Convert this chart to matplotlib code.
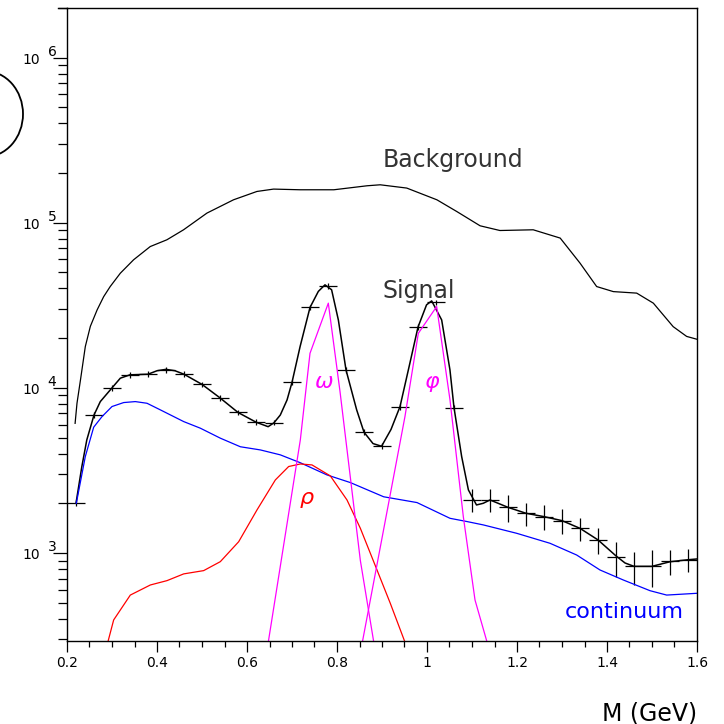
import matplotlib
matplotlib.use('Agg')
import matplotlib.pyplot as plt
from matplotlib.patches import Ellipse
from matplotlib.lines import Line2D
from matplotlib.ticker import FixedLocator, LogLocator, NullFormatter, FixedFormatter

# background curve
bkg_m = [0.218, 0.2222, 0.230, 0.2407, 0.2519, 0.267, 0.2815, 0.296, 0.3185, 0.348, 0.385, 0.422,
         0.459, 0.511, 0.570, 0.622, 0.659, 0.718, 0.793, 0.867, 0.896, 0.955, 1.022, 1.066,
         1.118, 1.162, 1.236, 1.296, 1.340, 1.377, 1.414, 1.466, 1.503, 1.547, 1.577, 1.600]
bkg = [6100, 8070, 11200, 17800, 23600, 29700, 35700, 41100, 49500, 59700, 71800, 78900,
       90700, 114500, 137800, 154800, 160000, 158500, 158500, 167600, 169900, 162300, 137800, 117100,
       95900, 89800, 90700, 80800, 57000, 41100, 38300, 37500, 32600, 23500, 20500, 19700]

# signal data points (bin centres, bin half width 0.02)
sig_m = [0.22, 0.26, 0.30, 0.34, 0.38, 0.42, 0.46, 0.50, 0.54, 0.58, 0.62, 0.66,
         0.70, 0.74, 0.78, 0.82, 0.86, 0.90, 0.94, 0.98, 1.02, 1.06,
         1.10, 1.14, 1.18, 1.22, 1.26, 1.30, 1.34, 1.38, 1.42, 1.46, 1.50, 1.54, 1.58]
sig = [2000, 6850, 10000, 12000, 12100, 12900, 12100, 10500, 8700, 7100, 6250, 6170,
       10800, 30700, 41500, 12850, 5400, 4470, 7700, 23300, 33000, 7600,
       2100, 2100, 1890, 1740, 1660, 1570, 1410, 1200, 940, 830, 830, 890, 910]
sig_err = [80, 270, 400, 480, 480, 520, 480, 420, 350, 280, 250, 250,
           430, 1200, 1700, 520, 220, 180, 310, 930, 1300, 300,
           340, 340, 340, 280, 290, 270, 230, 210, 220, 190, 210, 150, 140]
bin_half = 0.02

# signal fit curve
fit_m = [0.22, 0.233, 0.244, 0.26, 0.274, 0.30, 0.3185, 0.34, 0.38, 0.40, 0.42, 0.44, 0.46,
         0.50, 0.54, 0.58, 0.62, 0.647, 0.66, 0.674, 0.689, 0.70, 0.718, 0.74, 0.7585, 0.7733,
         0.788, 0.803, 0.82, 0.8437, 0.86, 0.88, 0.899, 0.92, 0.94, 0.962, 0.98, 0.999, 1.0104,
         1.0326, 1.051, 1.06, 1.077, 1.092, 1.11, 1.125, 1.14, 1.18, 1.22, 1.26, 1.30, 1.34,
         1.38, 1.42, 1.44, 1.46, 1.50, 1.54, 1.58, 1.60]
fit = [2000, 3340, 4840, 6850, 8260, 10000, 11450, 12000, 12100, 12700, 12950, 12700, 12100,
       10500, 8700, 7100, 6200, 5820, 6150, 6850, 8450, 10800, 17800, 30700, 38400, 42100,
       39300, 25800, 12850, 7360, 5390, 4600, 4430, 5600, 7700, 14130, 23350, 31850, 33650,
       25800, 12850, 7600, 3840, 2410, 1954, 2000, 2095, 1890, 1740, 1660, 1570, 1410,
       1200, 960, 870, 830, 830, 885, 910, 920]

# continuum
cont_m = [0.2207, 0.2407, 0.2593, 0.2778, 0.30, 0.326, 0.3518, 0.3778, 0.4074, 0.4593, 0.4963,
          0.5407, 0.5852, 0.6296, 0.674, 0.7185, 0.7778, 0.8296, 0.9037, 0.9778, 1.0511, 1.0889,
          1.1252, 1.1993, 1.2733, 1.3326, 1.3844, 1.4363, 1.4956, 1.5326, 1.60]
cont = [2000, 3840, 5780, 6700, 7710, 8150, 8260, 8070, 7360, 6250, 5700,
        4960, 4400, 4210, 3930, 3520, 2970, 2670, 2190, 2020, 1622, 1550,
        1479, 1316, 1145, 972, 789, 686, 591, 556, 570]

# rho, omega, phi
rho_m = [0.288, 0.3037, 0.3407, 0.3852, 0.4222, 0.4593, 0.5037, 0.5407, 0.5815, 0.6222, 0.663,
         0.6926, 0.7185, 0.7444, 0.7852, 0.8222, 0.8519, 0.8889, 0.9185, 0.955]
rho = [270, 393, 556, 640, 680, 747, 782, 886, 1170, 1823, 2770,
       3340, 3460, 3415, 2930, 2095, 1411, 789, 495, 270]
om_m = [0.647, 0.7185, 0.74, 0.7807, 0.8067, 0.8519, 0.882]
om = [285, 4840, 16200, 32600, 9500, 900, 285]
phi_m = [0.856, 0.951, 0.9807, 1.0215, 1.0511, 1.0807, 1.1067, 1.134]
phi = [285, 6700, 21400, 31100, 8450, 1660, 519, 285]

xticks = [0.2, 0.4, 0.6, 0.8, 1.0, 1.2, 1.4, 1.6]
xlabels = ['0.2', '0.4', '0.6', '0.8', '1', '1.2', '1.4', '1.6']
decades = [3, 4, 5, 6]

W = 724
fig = plt.figure(figsize=(7.24, 7.24), dpi=100)
ax = fig.add_axes([67 / W, 1 - 641 / W, 630 / W, 633 / W])
ax.set_yscale('log')
ax.set_xlim(0.2, 1.6)
ax.set_ylim(293, 2.0e6)

ax.plot(bkg_m, bkg, color='black', lw=0.9)
ax.plot(fit_m, fit, color='black', lw=1.1)
ax.errorbar(sig_m, sig, xerr=bin_half, yerr=sig_err, fmt='none', ecolor='black',
            elinewidth=0.9, capsize=0)
ax.plot(cont_m, cont, color='#0000ff', lw=0.9)
ax.plot(rho_m, rho, color='#ff0000', lw=0.9)
ax.plot(om_m, om, color='#ff00ff', lw=0.9)
ax.plot(phi_m, phi, color='#ff00ff', lw=0.9)

ax.text(0.902, 2.18e5, 'Background', fontsize=17, color='#333333', va='baseline')
ax.text(0.902, 3.51e4, 'Signal', fontsize=17, color='#333333', va='baseline')
ax.text(1.307, 404, 'continuum', fontsize=16, color='#0000ff', va='baseline')
ax.text(0.771, 1.09e4, r'$\omega$', fontsize=16, color='#ff00ff', ha='center', va='center')
ax.text(1.011, 1.06e4, r'$\varphi$', fontsize=16, color='#ff00ff', ha='center', va='center')
ax.text(0.733, 2.1e3, r'$\rho$', fontsize=16, color='#ff0000', ha='center', va='center')

# ticks
ax.xaxis.set_major_locator(FixedLocator(xticks))
ax.xaxis.set_major_formatter(FixedFormatter(xlabels))
ax.xaxis.set_minor_locator(FixedLocator([0.2 + 0.05 * i for i in range(29)]))
ax.yaxis.set_major_locator(FixedLocator([10.0 ** k for k in decades]))
ax.yaxis.set_major_formatter(NullFormatter())
ax.yaxis.set_minor_locator(LogLocator(base=10, subs=range(2, 10)))
ax.yaxis.set_minor_formatter(NullFormatter())
ax.tick_params(axis='x', which='major', direction='out', length=8, width=0.9, pad=3, labelsize=10)
ax.tick_params(axis='x', which='minor', direction='out', length=4.5, width=0.9)
ax.tick_params(axis='y', which='major', direction='out', length=10, width=0.9)
ax.tick_params(axis='y', which='minor', direction='out', length=6.5, width=0.9)
for sp in ax.spines.values():
    sp.set_linewidth(1.0)

for k in decades:
    ax.annotate('10', xy=(0, 10.0 ** k), xycoords=('axes fraction', 'data'),
                xytext=(-19.5, -1.4), textcoords='offset points', ha='right', va='center',
                fontsize=10)
    ax.annotate(str(k), xy=(0, 10.0 ** k), xycoords=('axes fraction', 'data'),
                xytext=(-14, 4.3), textcoords='offset points', ha='left', va='center',
                fontsize=10)

fig.text(697 / W, 1 - 720 / W, 'M (GeV)', fontsize=17, ha='right', va='baseline')

# top border runs a little past the left axis
fig.add_artist(Line2D([58 / W, 67 / W], [1 - 8 / W, 1 - 8 / W], color='black', lw=1.0))
# ellipse cut off at the left edge
fig.add_artist(Ellipse((-15 / W, 1 - 114 / W), 76 / W, 86 / W, fill=False,
                       edgecolor='black', lw=1.3))

fig.savefig('out.png', dpi=100)
